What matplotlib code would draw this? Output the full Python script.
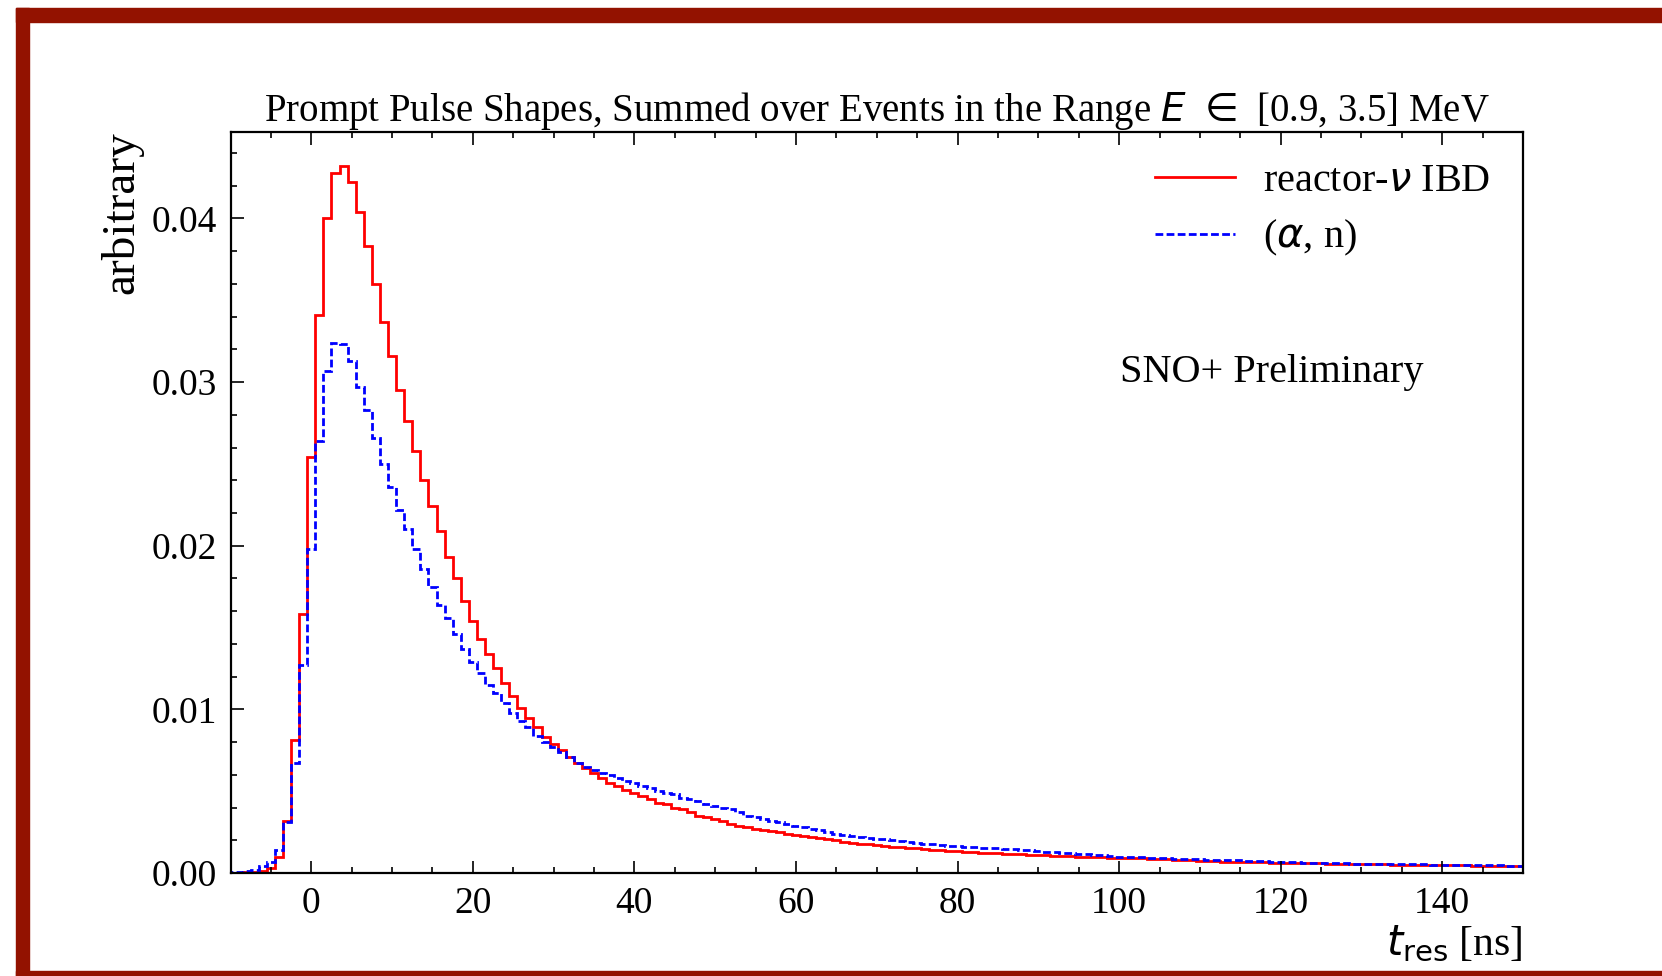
import matplotlib
matplotlib.use("Agg")
import matplotlib.pyplot as plt
from matplotlib.lines import Line2D
from matplotlib.patches import Rectangle
import numpy as np

plt.rcParams['font.family'] = 'serif'
plt.rcParams['font.serif'] = ['Liberation Serif', 'DejaVu Serif']
plt.rcParams['mathtext.fontset'] = 'dejavusans'

# bin centres -10 .. 150 ns, 1 ns wide
t_first, t_last = -10, 150

ibd = [
    0.00003, 0.00003, 0.00005, 0.00008, 0.00015, 0.0003, 0.0010, 0.0032, 0.0081, 0.0158,   # -10..-1
    0.0254, 0.0341, 0.0400, 0.0428, 0.0432, 0.0422, 0.0404, 0.0383, 0.0360, 0.0337,        # 0..9
    0.0316, 0.0295, 0.0276, 0.0258, 0.0240, 0.0224, 0.0209, 0.0193, 0.0180, 0.0166,        # 10..19
    0.0154, 0.0143, 0.0134, 0.0125, 0.0116, 0.0108, 0.0101, 0.0095, 0.0089, 0.0083,        # 20..29
    0.0079, 0.0075, 0.0071, 0.0067, 0.0064, 0.0061, 0.0058, 0.0055, 0.0053, 0.0051,        # 30..39
    0.0049, 0.0047, 0.0045, 0.0043, 0.0042, 0.0040, 0.0039, 0.0037, 0.0035, 0.0034,        # 40..49
    0.0033, 0.0032, 0.0030, 0.0029, 0.0028, 0.0027, 0.0026, 0.00255, 0.0025, 0.0024,       # 50..59
    0.0023, 0.00225, 0.0022, 0.00213, 0.00205, 0.0020, 0.0019, 0.00185, 0.0018, 0.00175,   # 60..69
    0.0017, 0.00165, 0.0016, 0.00157, 0.00153, 0.0015, 0.00147, 0.00143, 0.0014, 0.00137,  # 70..79
    0.00134, 0.00131, 0.00128, 0.00125, 0.00122, 0.0012, 0.00118, 0.00116, 0.00114, 0.00112,  # 80..89
    0.0011, 0.00108, 0.00106, 0.00104, 0.00102, 0.0010, 0.00099, 0.00097, 0.00096, 0.00094,   # 90..99
    0.00093, 0.00091, 0.0009, 0.00089, 0.00087, 0.00086, 0.00084, 0.00082, 0.0008, 0.00078,   # 100..109
    0.00076, 0.00074, 0.00072, 0.0007, 0.00069, 0.00068, 0.00067, 0.00066, 0.00065, 0.00064,  # 110..119
    0.00063, 0.00062, 0.00061, 0.0006, 0.0006, 0.00059, 0.00058, 0.00057, 0.00056, 0.00056,   # 120..129
    0.00055, 0.00054, 0.00053, 0.00053, 0.00052, 0.00051, 0.0005, 0.0005, 0.0005, 0.00049,    # 130..139
    0.00048, 0.00048, 0.00047, 0.00047, 0.00046, 0.00045, 0.00045, 0.00044, 0.00044, 0.00043, # 140..149
    0.00043,                                                                                   # 150
]

alpha_n = [
    0.00005, 0.00006, 0.0001, 0.0002, 0.0004, 0.0007, 0.0014, 0.0031, 0.0067, 0.0127,     # -10..-1
    0.0198, 0.0264, 0.0307, 0.0324, 0.0323, 0.0313, 0.0297, 0.0283, 0.0266, 0.0250,        # 0..9
    0.0236, 0.0222, 0.0210, 0.0198, 0.0186, 0.0175, 0.0164, 0.0156, 0.0146, 0.0137,        # 10..19
    0.0129, 0.0122, 0.0115, 0.0110, 0.0104, 0.0098, 0.0093, 0.0089, 0.0084, 0.0080,        # 20..29
    0.0077, 0.0074, 0.0071, 0.0067, 0.0065, 0.0063, 0.0061, 0.0060, 0.0058, 0.0056,        # 30..39
    0.0055, 0.0053, 0.0052, 0.0050, 0.0049, 0.0048, 0.0046, 0.0045, 0.0044, 0.0042,        # 40..49
    0.0041, 0.0040, 0.0039, 0.0037, 0.0035, 0.0034, 0.0033, 0.0032, 0.0031, 0.0030,        # 50..59
    0.0029, 0.0028, 0.0027, 0.0026, 0.0025, 0.0024, 0.0023, 0.00225, 0.0022, 0.00215,      # 60..69
    0.0021, 0.00205, 0.0020, 0.00195, 0.0019, 0.00185, 0.0018, 0.00175, 0.0017, 0.00167,   # 70..79
    0.00163, 0.0016, 0.00157, 0.00155, 0.00152, 0.0015, 0.00147, 0.00144, 0.00141, 0.00138,   # 80..89
    0.00135, 0.0013, 0.00127, 0.00124, 0.00121, 0.00118, 0.00115, 0.00112, 0.00108, 0.00104,  # 90..99
    0.00101, 0.0010, 0.00098, 0.00096, 0.00094, 0.00092, 0.0009, 0.00088, 0.00086, 0.00084,   # 100..109
    0.00083, 0.00082, 0.00081, 0.0008, 0.00079, 0.00077, 0.00075, 0.00073, 0.00071, 0.0007,   # 110..119
    0.00068, 0.00067, 0.00065, 0.00064, 0.00063, 0.00062, 0.00061, 0.0006, 0.00059, 0.00058,  # 120..129
    0.00058, 0.00057, 0.00056, 0.00056, 0.00055, 0.00055, 0.00054, 0.00054, 0.00053, 0.00052, # 130..139
    0.00052, 0.00051, 0.0005, 0.0005, 0.00049, 0.00048, 0.00048, 0.00047, 0.00046, 0.00046,   # 140..149
    0.00045,                                                                                   # 150
]

edges = np.arange(t_first - 0.5, t_last + 1.0, 1.0)

fig = plt.figure(figsize=(16.62, 9.76), dpi=100)
ax = fig.add_axes([0.1387, 0.1055, 0.7777, 0.7596])

lw = 2.0
dash = (0, (2.8, 1.2))
ax.stairs(ibd, edges, color='red', lw=lw)
ax.stairs(alpha_n, edges, color='blue', lw=lw, ls=dash)

ax.set_xlim(-10, 150)
ax.set_ylim(0, 0.0453)
ax.set_xticks(np.arange(0, 141, 20))
ax.set_yticks([0.0, 0.01, 0.02, 0.03, 0.04])
ax.set_yticklabels(['0.00', '0.01', '0.02', '0.03', '0.04'])
ax.xaxis.set_minor_locator(matplotlib.ticker.MultipleLocator(5))
ax.yaxis.set_minor_locator(matplotlib.ticker.MultipleLocator(0.002))
ax.tick_params(which='both', direction='in', top=True, right=False, labelsize=27, width=1.2, pad=10)
ax.tick_params(which='major', length=9)
ax.tick_params(which='minor', length=4.5)
for s in ax.spines.values():
    s.set_linewidth(1.6)

ax.set_title(r'Prompt Pulse Shapes, Summed over Events in the Range $E\ \in$ [0.9, 3.5] MeV',
             fontsize=28, pad=8)
ax.set_ylabel('arbitrary', loc='top', fontsize=34, labelpad=6)
ax.set_xlabel(r'$t_{\rm res}$ [ns]', loc='right', fontsize=30, labelpad=2)

handles = [Line2D([], [], color='red', lw=lw),
           Line2D([], [], color='blue', lw=lw, ls=dash)]
ax.legend(handles, [r'reactor-$\nu$ IBD', r'($\alpha$, n)'], loc='upper left',
          bbox_to_anchor=(0.715, 0.958), frameon=False, fontsize=29,
          handlelength=2.0, handletextpad=0.7, labelspacing=0.45, borderpad=0, borderaxespad=0)
ax.text(0.688, 0.675, 'SNO+ Preliminary', transform=ax.transAxes, fontsize=29,
        ha='left', va='center')

# dark red frame around the slide
frame = '#931200'
fig.patches.append(Rectangle((0.0096, 1 - 22 / 976), 1 - 0.0096, 14 / 976,
                             transform=fig.transFigure, color=frame, zorder=0))
fig.patches.append(Rectangle((16 / 1662, 0), 13 / 1662, 1 - 8 / 976,
                             transform=fig.transFigure, color=frame, zorder=0))
fig.patches.append(Rectangle((16 / 1662, 0), 1 - 16 / 1662, 5 / 976,
                             transform=fig.transFigure, color=frame, zorder=0))

fig.savefig('out.png', dpi=100)
